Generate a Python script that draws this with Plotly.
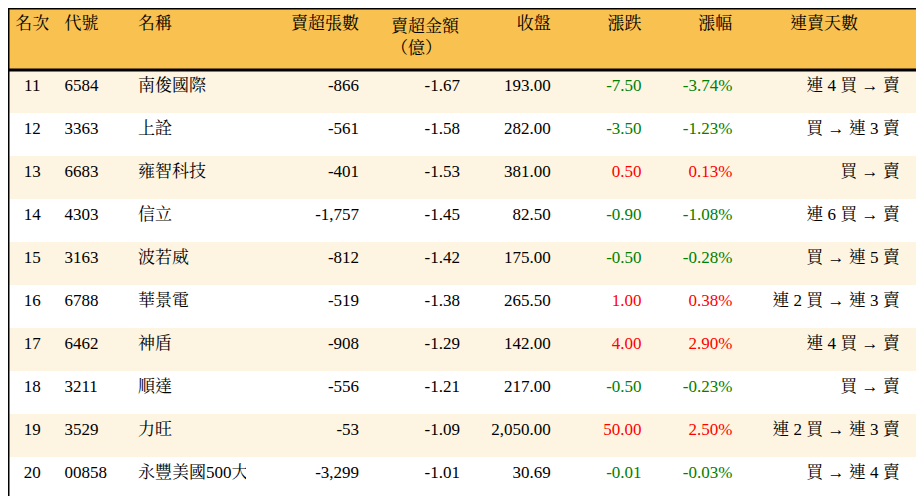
import plotly.graph_objects as go

headers = ["名次", "代號", "名稱", "賣超張數", "賣超金額<br>（億）", "收盤", "漲跌", "漲幅", "連賣天數", ""]
rank = ["11", "12", "13", "14", "15", "16", "17", "18", "19", "20"]
code = ["6584", "3363", "6683", "4303", "3163", "6788", "6462", "3211", "3529", "00858"]
name = ["南俊國際", "上詮", "雍智科技", "信立", "波若威", "華景電", "神盾", "順達", "力旺", "永豐美國500大"]
shares = [-866, -561, -401, -1757, -812, -519, -908, -556, -53, -3299]
amount = [-1.67, -1.58, -1.53, -1.45, -1.42, -1.38, -1.29, -1.21, -1.09, -1.01]
close = [193.00, 282.00, 381.00, 82.50, 175.00, 265.50, 142.00, 217.00, 2050.00, 30.69]
change = [-7.50, -3.50, 0.50, -0.90, -0.50, 1.00, 4.00, -0.50, 50.00, -0.01]
pct = [-3.74, -1.23, 0.13, -1.08, -0.28, 0.38, 2.90, -0.23, 2.50, -0.03]
streak = ["連 4 買 → 賣", "買 → 連 3 賣", "買 → 賣", "連 6 買 → 賣", "買 → 連 5 賣",
          "連 2 買 → 連 3 賣", "連 4 買 → 賣", "買 → 賣", "連 2 買 → 連 3 賣", "買 → 連 4 賣"]

n = len(rank)
cols = [rank, code, name,
        [f"{v:,}" for v in shares],
        [f"{v:.2f}" for v in amount],
        [f"{v:,.2f}" for v in close],
        [f"{v:.2f}" for v in change],
        [f"{v:.2f}%" for v in pct],
        streak, [""] * n]
red, green = "#ff0000", "#008000"
updown = [red if v > 0 else green for v in change]
fontcolors = [["black"] * n] * 6 + [updown, updown, ["black"] * n, ["black"] * n]
rowfill = ["#fdf5e2" if i % 2 == 0 else "white" for i in range(n)]
fam = "Liberation Serif, Noto Serif CJK TC, Noto Sans CJK TC"

fig = go.Figure(go.Table(
    columnwidth=[48, 73, 115, 120, 100, 90, 90, 90, 166, 24],
    header=dict(values=headers, height=62, fill_color="#f8c150", line_color="#f8c150",
                align=["center", "left", "left", "right", "right", "right", "right", "right", "center", "center"],
                font=dict(family=fam, size=17, color="black")),
    cells=dict(values=cols, height=43, fill_color=[rowfill] * 10, line_color=[rowfill] * 10,
               align=["center", "left", "left", "right", "right", "right", "right", "right", "right", "right"],
               font=dict(family=fam, size=17, color=fontcolors)),
    domain=dict(x=[0, 1], y=[0, 1]),
))
fig.update_layout(
    width=924, height=496, margin=dict(l=0, r=0, t=0, b=0), paper_bgcolor="white",
    shapes=[
        dict(type="rect", xref="paper", yref="paper", x0=0, x1=1, y0=0, y1=1, line=dict(color="black", width=3)),
        dict(type="line", xref="paper", yref="paper", x0=0, x1=1, y0=1 - 62 / 496, y1=1 - 62 / 496,
             line=dict(color="black", width=3)),
    ],
)
fig.write_html("out.html")
